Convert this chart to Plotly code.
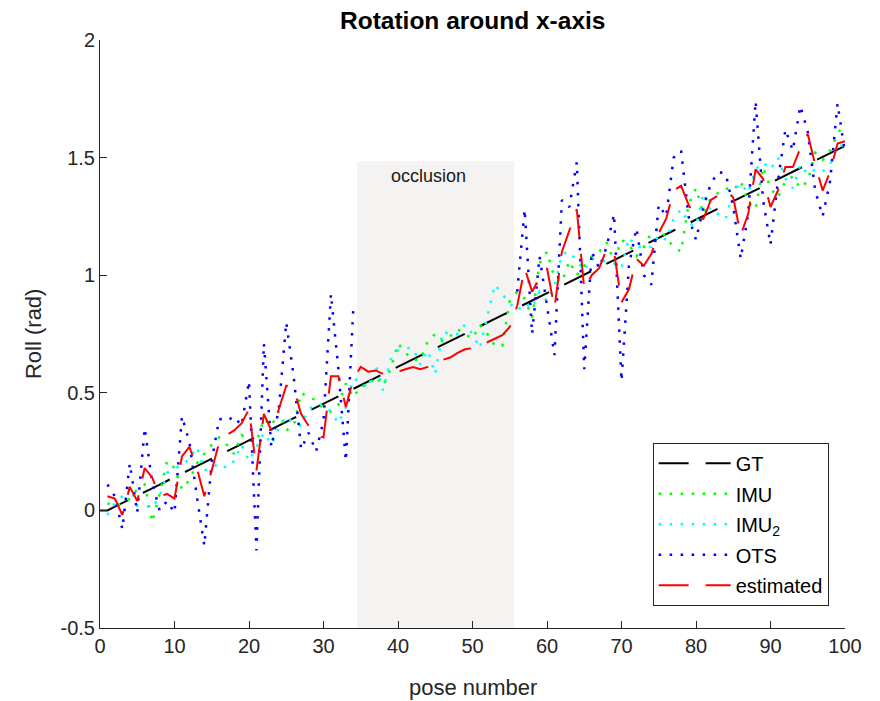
import plotly.graph_objects as go

# ---------------- data ----------------
pose_gt = list(range(0, 101))
pose = list(range(1, 101))

gt = [0.000, 0.000, 0.016, 0.031, 0.047, 0.063, 0.078, 0.094, 0.110, 0.125,
      0.141, 0.157, 0.172, 0.188, 0.204, 0.219, 0.235, 0.251, 0.266, 0.282,
      0.298, 0.313, 0.329, 0.345, 0.360, 0.376, 0.392, 0.407, 0.423, 0.438,
      0.454, 0.470, 0.485, 0.501, 0.517, 0.532, 0.548, 0.564, 0.579, 0.595,
      0.611, 0.626, 0.642, 0.658, 0.673, 0.689, 0.705, 0.720, 0.736, 0.751,
      0.767, 0.783, 0.798, 0.814, 0.830, 0.845, 0.861, 0.877, 0.892, 0.908,
      0.924, 0.939, 0.955, 0.971, 0.986, 1.002, 1.018, 1.033, 1.049, 1.064,
      1.080, 1.096, 1.111, 1.127, 1.143, 1.158, 1.174, 1.190, 1.205, 1.221,
      1.237, 1.252, 1.268, 1.284, 1.299, 1.315, 1.331, 1.346, 1.362, 1.377,
      1.393, 1.409, 1.424, 1.440, 1.456, 1.471, 1.487, 1.503, 1.518, 1.534,
      1.550]

imu = [0.03, 0.02, 0.03, 0.05, 0.09, 0.11, -0.05, 0.07, 0.21, 0.18,
       0.09, 0.13, 0.20, 0.24, 0.28, 0.31, 0.28, 0.24, 0.32, 0.30,
       0.29, 0.39, 0.36, 0.42, 0.34, 0.36, 0.50, 0.48, 0.47, 0.43,
       0.42, 0.45, 0.54, 0.48, 0.53, 0.53, 0.57, 0.53, 0.60, 0.71,
       0.67, 0.64, 0.64, 0.72, 0.75, 0.72, 0.74, 0.77, 0.75, 0.73,
       0.79, 0.75, 0.70, 0.70, 0.89, 0.93, 0.90, 0.82, 1.05, 1.10,
       0.99, 0.97, 1.06, 1.00, 1.04, 1.08, 1.10, 1.14, 1.06, 1.15,
       1.13, 1.08, 1.12, 1.18, 1.20, 1.16, 1.12, 1.10, 1.30, 1.37,
       1.26, 1.33, 1.35, 1.37, 1.36, 1.40, 1.31, 1.28, 1.46, 1.37,
       1.33, 1.40, 1.42, 1.37, 1.40, 1.52, 1.49, 1.53, 1.60, 1.65]

imu2 = [-0.02, 0.03, 0.06, 0.10, 0.02, 0.02, 0.01, 0.06, 0.16, 0.18,
        0.19, 0.22, 0.27, 0.17, 0.18, 0.20, 0.18, 0.21, 0.28, 0.21,
        0.27, 0.33, 0.28, 0.35, 0.40, 0.37, 0.36, 0.43, 0.45, 0.45,
        0.42, 0.37, 0.44, 0.56, 0.55, 0.52, 0.62, 0.51, 0.64, 0.68,
        0.69, 0.69, 0.62, 0.68, 0.58, 0.76, 0.75, 0.75, 0.79, 0.75,
        0.69, 0.83, 0.96, 0.92, 0.88, 0.85, 0.88, 0.86, 0.93, 0.89,
        0.95, 1.09, 1.10, 1.06, 1.02, 1.07, 1.06, 1.06, 1.05, 1.03,
        1.16, 1.12, 1.12, 1.12, 1.17, 1.15, 1.24, 1.28, 1.22, 1.21,
        1.35, 1.27, 1.26, 1.24, 1.36, 1.39, 1.35, 1.45, 1.48, 1.45,
        1.50, 1.41, 1.37, 1.47, 1.43, 1.45, 1.44, 1.47, 1.55, 1.55]

ots = [0.11, 0.06, -0.08, 0.20, -0.01, 0.35, 0.12, 0.00, 0.04, -0.01,
       0.40, 0.29, 0.06, -0.15, 0.21, 0.39, 0.38, 0.40, 0.36, 0.55,
       -0.17, 0.71, 0.27, 0.43, 0.80, 0.57, 0.26, 0.33, 0.25, 0.38,
       0.92, 0.60, 0.21, 0.86, None, None, None, None, None, None,
       None, None, None, None, None, None, None, None, None, None,
       None, None, None, None, None, 0.93, 1.28, 0.75, 1.08, 0.87,
       0.66, 1.32, 1.29, 1.48, 0.60, 1.10, 1.03, 1.12, 1.26, 0.55,
       1.04, 1.20, 1.00, 0.96, 1.30, 1.25, 1.50, 1.53, 1.25, 1.15,
       1.29, 1.39, 1.44, 1.43, 1.29, 1.07, 1.26, 1.74, 1.32, 1.13,
       1.40, 1.62, 1.53, 1.72, 1.61, 1.36, 1.25, 1.40, 1.73, 1.52]

estimated = [0.06, 0.05, -0.02, 0.10, 0.04, 0.18, 0.14, 0.06, 0.07, 0.05,
             0.23, 0.27, 0.18, 0.06, 0.17, 0.29, 0.32, 0.34, 0.37, 0.43,
             0.17, 0.41, 0.34, 0.43, 0.53, 0.52, 0.41, 0.36, 0.32, 0.31,
             0.57, 0.57, 0.44, 0.56, 0.61, 0.59, 0.595, 0.58, 0.59, 0.59,
             0.60, 0.61, 0.60, 0.61, 0.63, 0.64, 0.65, 0.67, 0.685, 0.69,
             0.70, 0.715, 0.73, 0.745, 0.78, 0.87, 1.03, 0.93, 0.99, 1.03,
             0.86, 1.10, 1.19, 1.28, 0.94, 1.00, 1.03, 1.11, 1.10, 0.885,
             0.94, 1.07, 1.04, 1.09, 1.18, 1.24, 1.36, 1.38, 1.30, 1.24,
             1.24, 1.32, 1.34, 1.36, 1.33, 1.17, 1.26, 1.45, 1.41, 1.29,
             1.36, 1.46, 1.46, 1.54, 1.60, 1.47, 1.36, 1.44, 1.56, 1.57]

occlusion_x = [34.5, 55.6]
occlusion_top = 1.485

x_ticks = [0, 10, 20, 30, 40, 50, 60, 70, 80, 90, 100]
y_ticks = [-0.5, 0, 0.5, 1, 1.5, 2]
y_tick_text = ["-0.5", "0", "0.5", "1", "1.5", "2"]

# ---------------- figure ----------------
FONT = "Liberation Sans, Arial, Helvetica, sans-serif"
AX = "#262626"
DASH = "30px,17px"
DOT = "2.5px,8.5px"

fig = go.Figure()

fig.add_trace(go.Scatter(x=pose_gt, y=gt, mode="lines", name="GT", legendgroup="a",
                         line=dict(color="black", width=2, dash=DASH)))
fig.add_trace(go.Scatter(x=pose, y=imu, mode="lines", name="IMU", legendgroup="b",
                         line=dict(color="#00ff00", width=2.5, dash=DOT)))
fig.add_trace(go.Scatter(x=pose, y=imu2, mode="lines", name="IMU<sub>2</sub>",
                         legendgroup="c",
                         line=dict(color="#00ffff", width=2.5, dash=DOT)))
fig.add_trace(go.Scatter(x=pose, y=ots, mode="lines", name="OTS", legendgroup="d",
                         connectgaps=False,
                         line=dict(color="#0000ff", width=2.5, dash=DOT)))
fig.add_trace(go.Scatter(x=pose, y=estimated, mode="lines", name="estimated",
                         legendgroup="e",
                         line=dict(color="#ff0000", width=2, dash=DASH)))

fig.add_shape(type="rect", xref="x", yref="y",
              x0=occlusion_x[0], x1=occlusion_x[1], y0=-0.5, y1=occlusion_top,
              fillcolor="#f4f3f1", line=dict(width=0), layer="below")

fig.add_annotation(x=(occlusion_x[0] + occlusion_x[1]) / 2 - 0.95, y=1.42,
                   xref="x", yref="y", text="occlusion", showarrow=False,
                   font=dict(family=FONT, size=18, color="#1a1a1a"))

fig.add_annotation(x=0.5, y=-0.101, xref="paper", yref="paper",
                   text="pose number", showarrow=False, yanchor="middle",
                   font=dict(family=FONT, size=22, color=AX))
fig.add_annotation(x=-0.0899, y=0.5, xref="paper", yref="paper",
                   text="Roll (rad)", showarrow=False, textangle=-90,
                   xanchor="center", yanchor="middle",
                   font=dict(family=FONT, size=22, color=AX))

# Title as an annotation placed just inside the top edge
fig.add_annotation(x=0.5, y=1.0, xref="paper", yref="paper", yshift=20,
                   text="<b>Rotation around x-axis</b>", showarrow=False,
                   xanchor="center", yanchor="middle",
                   font=dict(family=FONT, size=24.5, color="black"))

# The page body has an 8px margin, so the figure is sized/margined to compensate.
fig.update_layout(
    width=872, height=693,
    margin=dict(l=92, r=34.5, t=31.5, b=72.5),
    paper_bgcolor="white", plot_bgcolor="white",
    font=dict(family=FONT, size=20, color=AX),
    showlegend=True,
    legend=dict(x=0.7418, y=0.315, xanchor="left", yanchor="top",
                bgcolor="white", bordercolor=AX, borderwidth=1,
                itemwidth=72, font=dict(family=FONT, size=20, color="black"),
                tracegroupgap=1.5),
    xaxis=dict(range=[0, 100], tickvals=x_ticks, ticks="inside", ticklen=7,
               tickcolor=AX, showline=True, linecolor=AX, linewidth=1,
               mirror=False, showgrid=False, zeroline=False,
               tickfont=dict(family=FONT, size=20, color=AX)),
    yaxis=dict(range=[-0.5, 2], tickvals=y_ticks, ticktext=y_tick_text,
               ticks="inside", ticklen=7, tickcolor=AX, showline=True,
               linecolor=AX, linewidth=1, mirror=False, showgrid=False,
               zeroline=False, tickfont=dict(family=FONT, size=20, color=AX)),
)

fig.write_html("out.html")
